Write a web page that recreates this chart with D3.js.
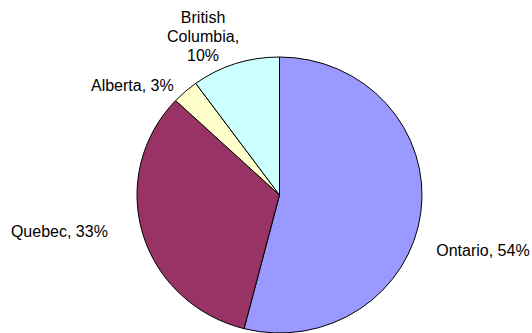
<!DOCTYPE html>
<html>
<head>
<meta charset="utf-8">
<script src="https://cdn.jsdelivr.net/npm/d3@7"></script>
<style>
  body { margin: 0; background: #fff; }
  svg { display: block; }
  text { font-family: "Liberation Sans", Arial, sans-serif; font-size: 16px; fill: #000; }
</style>
</head>
<body>
<div id="graf"></div>
<script>
// Datos
provincias = ['Ontario', 'Quebec', 'Alberta', 'British Columbia']
valores    = [54, 33, 3, 10]
etiquetas  = [['Ontario, 54%'], ['Quebec, 33%'], ['Alberta, 3%'], ['British', 'Columbia,', '10%']]

ancho_total = 532
alto_total  = 333
centro = { x: 279.5, y: 195 }
radio  = 142.5
aplaste = 138 / 142.5   // el pastel es un poco más ancho que alto

svg = d3.select('#graf').append('svg')
        .attr('width', ancho_total)
        .attr('height', alto_total)

color = d3.scaleOrdinal()
          .domain(provincias)
          .range(['#9999ff', '#993366', '#ffffcc', '#ccffff'])

pie = d3.pie().sort(null).value(d => d.v)
datos = provincias.map((p, i) => ({ p: p, v: valores[i], lbl: etiquetas[i] }))
arcos = pie(datos)

arcoGen = d3.arc().innerRadius(0).outerRadius(radio)
arcoLbl = d3.arc().innerRadius(160).outerRadius(160)

g = svg.append('g')
       .attr('transform', `translate(${centro.x}, ${centro.y}) scale(1, ${aplaste})`)

g.selectAll('path')
  .data(arcos)
  .enter().append('path')
  .attr('d', arcoGen)
  .attr('fill', d => color(d.data.p))
  .attr('stroke', '#000')
  .attr('stroke-width', 1)
  .attr('vector-effect', 'non-scaling-stroke')

// ajustes de posición de las etiquetas (estilo Excel)
ajustes = {
  'Ontario':          { dx: -2,  dy: 41,  anchor: 'start' },
  'Quebec':           { dx: -18, dy: -3,  anchor: 'end' },
  'Alberta':          { dx: 0,   dy: 16,  anchor: 'end' },
  'British Columbia': { dx: -27, dy: -20, anchor: 'middle' }
}

lbls = svg.append('g')
          .attr('transform', `translate(${centro.x}, ${centro.y})`)

arcos.forEach(a => {
  c = arcoLbl.centroid(a)
  aj = ajustes[a.data.p]
  t = lbls.append('text')
          .attr('x', c[0] + aj.dx)
          .attr('y', c[1] + aj.dy)
          .attr('text-anchor', aj.anchor)
  a.data.lbl.forEach((linea, i) => {
    t.append('tspan')
     .attr('x', c[0] + aj.dx)
     .attr('dy', i == 0 ? 0 : 19)
     .text(linea)
  })
})
</script>
</body>
</html>
